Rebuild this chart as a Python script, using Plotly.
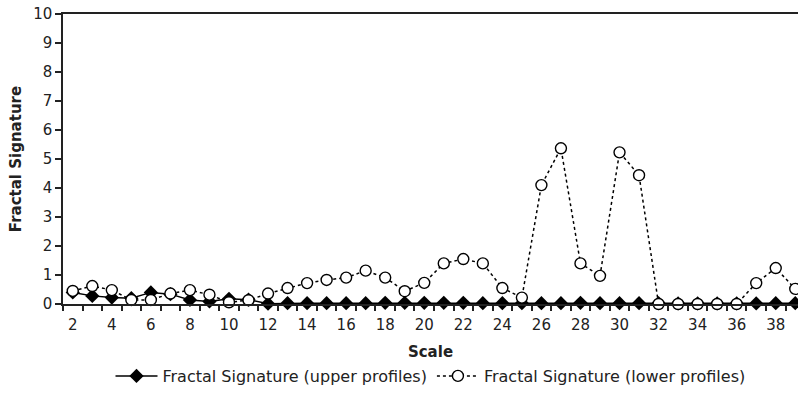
import plotly.graph_objects as go

scale = list(range(2, 40))
upper = [0.40, 0.28, 0.22, 0.20, 0.40, 0.34, 0.14, 0.09, 0.18, 0.15,
         0.01, 0.03, 0.03, 0.03, 0.03, 0.03, 0.04, 0.04, 0.04, 0.04,
         0.04, 0.03, 0.03, 0.03, 0.03, 0.03, 0.04, 0.03, 0.03, 0.03,
         0.03, 0.02, 0.02, 0.02, 0.02, 0.02, 0.03, 0.03]
lower = [0.45, 0.62, 0.48, 0.14, 0.14, 0.36, 0.48, 0.32, 0.06, 0.13,
         0.36, 0.55, 0.72, 0.83, 0.91, 1.15, 0.91, 0.44, 0.73, 1.40,
         1.55, 1.40, 0.55, 0.22, 4.10, 5.37, 1.40, 0.97, 5.23, 4.44,
         0.00, 0.00, 0.00, 0.00, 0.00, 0.72, 1.24, 0.52]
x_label_ticks = list(range(2, 40, 2))
boundary_ticks = [v + 0.5 for v in range(1, 40)]
y_ticks = list(range(0, 11))

FONT = "DejaVu Sans, Verdana, sans-serif"

fig = go.Figure()
fig.add_trace(go.Scatter(
    x=scale, y=upper, mode="lines+markers",
    name="Fractal Signature (upper profiles)",
    line=dict(color="black", width=1.5),
    marker=dict(symbol="diamond", size=11, color="black"),
    cliponaxis=False,
))
fig.add_trace(go.Scatter(
    x=scale, y=lower, mode="lines+markers",
    name="Fractal Signature (lower profiles)",
    line=dict(color="black", width=1.5, dash="dot"),
    marker=dict(symbol="circle", size=11, color="white",
                line=dict(color="black", width=1.4)),
    cliponaxis=False,
))
# invisible trace on overlay axis so that it renders
fig.add_trace(go.Scatter(x=[scale[0]], y=[None], xaxis="x2", showlegend=False,
                         hoverinfo="skip"))

xr = [1.5, 39.14]
fig.update_layout(
    width=798, height=393,
    margin=dict(l=63, r=0, t=14, b=87),
    plot_bgcolor="white", paper_bgcolor="white",
    font=dict(family=FONT, size=15, color="#222"),
    showlegend=True,
    legend=dict(orientation="h", x=0.5, xanchor="center", y=-0.25,
                yanchor="middle", font=dict(size=16, color="#222"),
                itemwidth=42, tracegroupgap=0),
    xaxis=dict(
        range=xr, tickmode="array", tickvals=x_label_ticks,
        ticks="outside", ticklen=6, tickcolor="rgba(0,0,0,0)",
        showline=True, linecolor="#222", linewidth=1.5, mirror=True,
        showgrid=False, zeroline=False,
        tickfont=dict(size=15),
        title=dict(text="<b>Scale</b>", font=dict(size=15), standoff=14),
    ),
    xaxis2=dict(
        range=xr, overlaying="x", side="bottom", tickmode="array",
        tickvals=boundary_ticks, ticks="outside", ticklen=6, tickwidth=1.5,
        tickcolor="#222", showticklabels=False, showline=False,
        showgrid=False, zeroline=False,
    ),
    yaxis=dict(
        range=[0, 10], tickmode="array", tickvals=y_ticks,
        ticks="outside", ticklen=6, tickwidth=1.5, tickcolor="#222",
        showline=True, linecolor="#222", linewidth=1.5,
        showgrid=False, zeroline=False,
        tickfont=dict(size=15),
        title=dict(text="<b>Fractal Signature</b>", font=dict(size=15), standoff=8),
    ),
)
fig.write_html("out.html")
